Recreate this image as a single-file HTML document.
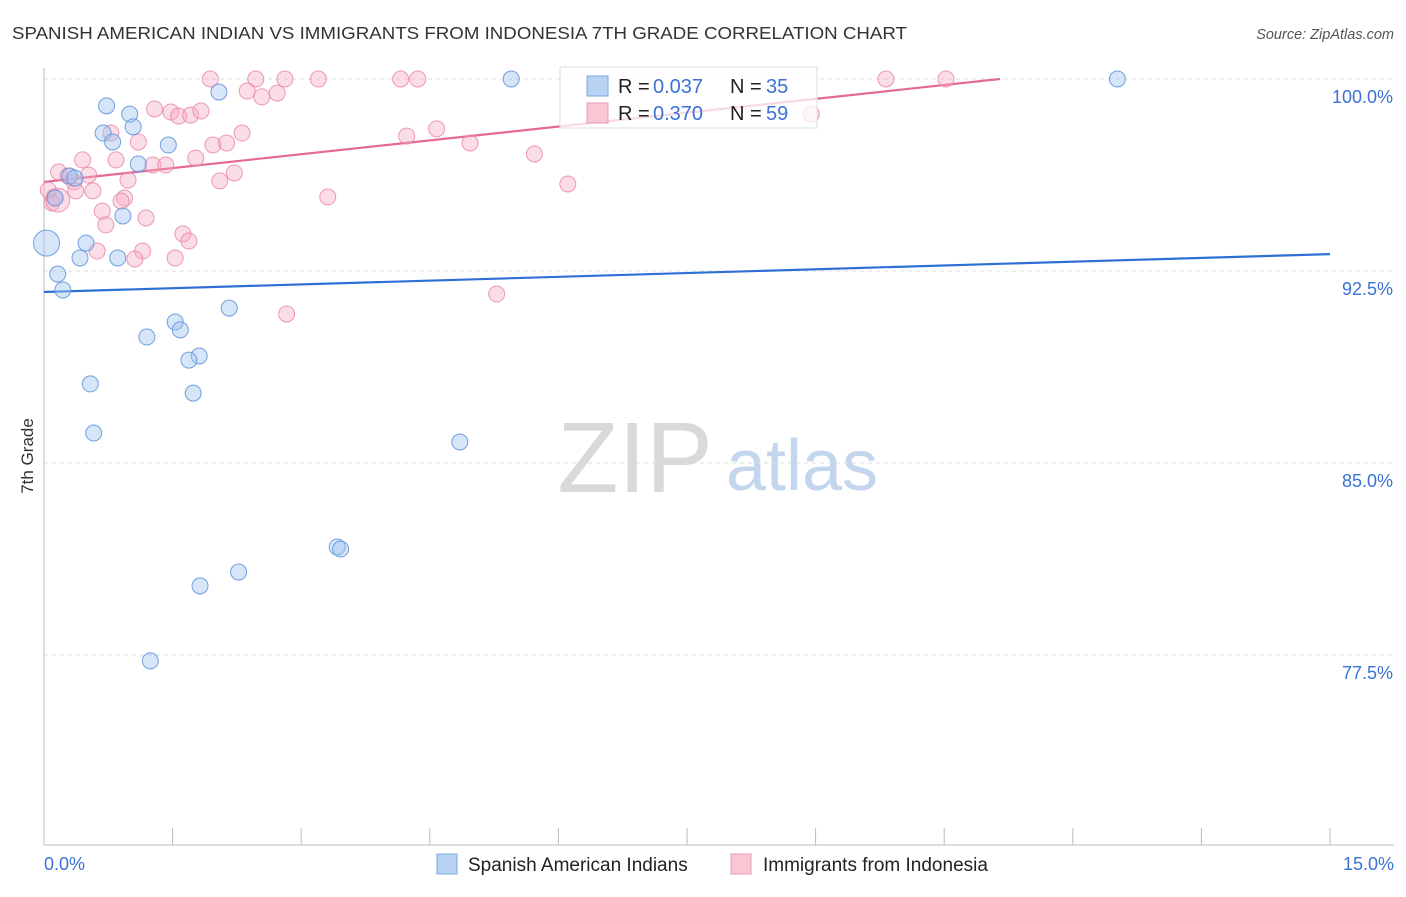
<!DOCTYPE html>
<html><head><meta charset="utf-8"><style>
body{margin:0;background:#fff;font-family:"Liberation Sans",sans-serif;}
svg text{font-family:"Liberation Sans",sans-serif;}
</style></head><body>
<svg id="chart" width="1406" height="892" xmlns="http://www.w3.org/2000/svg">
<text x="12" y="39" font-size="17.5" fill="#333" textLength="895" lengthAdjust="spacingAndGlyphs">SPANISH AMERICAN INDIAN VS IMMIGRANTS FROM INDONESIA 7TH GRADE CORRELATION CHART</text>
<text x="1394" y="39" font-size="14.5" fill="#555" text-anchor="end" font-style="italic">Source: ZipAtlas.com</text>
<text transform="translate(33,456) rotate(-90)" font-size="17" fill="#333" text-anchor="middle">7th Grade</text>
<g>
<text x="635" y="492" font-size="100" fill="#d9d9d9" font-family="Liberation Serif,serif" text-anchor="middle">ZIP</text>
<text x="802" y="490" font-size="72" fill="#c4d6ee" text-anchor="middle">atlas</text>
</g>
<g id="grid"></g><g id="axes"></g><g id="trend"></g><g id="pts"></g>
<g>
<rect x="560" y="67" width="257" height="61" fill="rgba(255,255,255,0.75)" stroke="#ddd"/>
<rect x="587" y="76" width="21" height="20" fill="#b8d2f4" stroke="#7aa8e6"/>
<text x="618" y="93" font-size="20" fill="#222">R =</text>
<text x="653" y="93" font-size="20" fill="#3b72d6">0.037</text>
<text x="730" y="93" font-size="20" fill="#222">N =</text>
<text x="766" y="93" font-size="20" fill="#3b72d6">35</text>
<rect x="587" y="103" width="21" height="20" fill="#f9c6d4" stroke="#ec9ab4"/>
<text x="618" y="120" font-size="20" fill="#222">R =</text>
<text x="653" y="120" font-size="20" fill="#3b72d6">0.370</text>
<text x="730" y="120" font-size="20" fill="#222">N =</text>
<text x="766" y="120" font-size="20" fill="#3b72d6">59</text>
</g>
<g>
<rect x="437" y="854" width="20" height="20" fill="#b8d2f4" stroke="#7aa8e6"/>
<text x="468" y="871" font-size="19" fill="#222">Spanish American Indians</text>
<rect x="731" y="854" width="20" height="20" fill="#f9c6d4" stroke="#ec9ab4"/>
<text x="763" y="871" font-size="19" fill="#222">Immigrants from Indonesia</text>
</g>
</svg>
<script>
const yTicks=[100,92.5,85,77.5];
const yTickLabels=["100.0%","92.5%","85.0%","77.5%"];
const xTickLabels=["0.0%","15.0%"];
const blueX=[0.73,1.00,0.69,0.80,1.04,1.45,1.10,0.30,0.36,0.13,0.92,0.03,0.49,0.16,0.42,0.86,0.22,2.16,1.53,1.59,1.20,1.81,1.69,0.54,1.74,0.58,4.85,3.42,3.46,2.27,1.82,1.24,2.04,5.45,12.52];
const blueY=[98.95,98.63,97.89,97.54,98.13,97.42,96.68,96.21,96.13,95.35,94.65,93.59,93.59,92.38,93.01,93.01,91.76,91.05,90.51,90.20,89.92,89.18,89.02,88.09,87.73,86.17,85.82,81.72,81.64,80.74,80.20,77.27,99.49,100,100];
const blueR=[8,8,8,8,8,8,8,8,8,8,8,13,8,8,8,8,8,8,8,8,8,8,8,8,8,8,8,8,8,8,8,8,8,8,8];
const pinkX=[1.94,2.47,2.81,3.20,4.16,4.36,9.82,10.52,2.37,2.54,2.72,1.29,1.48,1.57,1.71,1.83,0.78,1.10,2.31,1.97,2.13,4.23,4.58,4.97,5.72,8.95,0.17,0.45,0.84,1.27,1.42,1.77,2.22,2.05,0.98,0.35,0.28,0.57,0.37,0.12,0.09,0.94,0.90,0.68,1.19,0.72,1.62,1.69,0.62,1.15,1.06,1.53,3.31,6.11,5.28,2.83,0.16,0.52,0.05];
const pinkY=[100,100,100,100,100,100,100,100,99.53,99.30,99.45,98.83,98.71,98.55,98.59,98.75,97.89,97.54,97.89,97.42,97.50,97.77,98.05,97.50,97.07,98.63,96.37,96.84,96.84,96.64,96.64,96.91,96.33,96.02,96.05,95.98,96.21,95.63,95.63,95.39,95.16,95.35,95.23,94.84,94.57,94.30,93.95,93.67,93.28,93.28,92.97,93.01,95.39,95.90,91.60,90.82,95.27,96.25,95.66];
const pinkR=[8,8,8,8,8,8,8,8,8,8,8,8,8,8,8,8,8,8,8,8,8,8,8,8,8,8,8,8,8,8,8,8,8,8,8,8,8,8,8,8,8,8,8,8,8,8,8,8,8,8,8,8,8,8,8,8,12,8,8];
const blueTrendX=[0,15], blueTrendY=[91.68,93.16];
const pinkTrendX=[0,11.15], pinkTrendY=[95.98,100];
const NS="http://www.w3.org/2000/svg";
const xs=v=>44+v/15*1286, ys=v=>79+(100-v)/7.5*192;
function mk(tag,attrs,parent){const e=document.createElementNS(NS,tag);for(const k in attrs)e.setAttribute(k,attrs[k]);document.getElementById(parent).appendChild(e);return e;}
yTicks.forEach((t,i)=>{
 const l=mk('line',{x1:44,x2:1394,y1:ys(t),y2:ys(t),stroke:'#ddd','stroke-dasharray':'4,4'},'grid');
 
 
 const tx=mk('text',{x:1393,y:ys(t)+24,'font-size':18,fill:'#3b72d6','text-anchor':'end'},'grid');tx.textContent=yTickLabels[i];
 
 
});
const ya=mk('line',{x1:44,x2:44,y1:68,y2:845,stroke:'#bbb'},'axes');


const xa=mk('line',{x1:44,x2:1394,y1:845,y2:845,stroke:'#bbb'},'axes');


for(let i=0;i<=10;i++){const t=mk('line',{x1:xs(i*1.5),x2:xs(i*1.5),y1:828,y2:845,stroke:'#bbb'},'axes');
 
 }
[[0,'start',44],[15,'end',1394]].forEach((d,i)=>{const t=mk('text',{x:d[2],y:870,'font-size':18,fill:'#3b72d6','text-anchor':d[1]},'axes');t.textContent=xTickLabels[i];
 
 });
function dots(X,Y,R,fill,stroke,name){X.forEach((x,i)=>{const c=mk('circle',{cx:xs(x),cy:ys(Y[i]),r:R[i],fill:fill,stroke:stroke,'stroke-width':1},'pts');
 
 });}
dots(pinkX,pinkY,pinkR,'rgba(246,170,194,0.4)','rgba(232,130,163,0.8)','indonesia-point');
dots(blueX,blueY,blueR,'rgba(165,198,240,0.45)','rgba(90,144,220,0.85)','spanish-american-indian-point');
const bt=mk('line',{x1:xs(blueTrendX[0]),y1:ys(blueTrendY[0]),x2:xs(blueTrendX[1]),y2:ys(blueTrendY[1]),stroke:'#2e6fd6','stroke-width':2.2},'trend');


const pt=mk('line',{x1:xs(pinkTrendX[0]),y1:ys(pinkTrendY[0]),x2:xs(pinkTrendX[1]),y2:ys(pinkTrendY[1]),stroke:'#e46a95','stroke-width':2.2},'trend');


</script>
</body></html>
